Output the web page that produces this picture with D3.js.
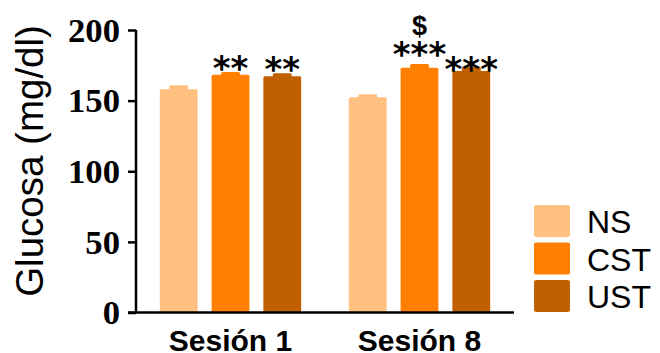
<!DOCTYPE html>
<html>
<head>
<meta charset="utf-8">
<script src="https://cdn.jsdelivr.net/npm/d3@7"></script>
<style>
  body { margin: 0; background: #fff; }
  svg { display: block; }
</style>
</head>
<body>
<svg id="drawing_region"></svg>
<script>
// data
const sessions = ["Sesión 1", "Sesión 8"];
const groups = ["NS", "CST", "UST"];
const means = {
    "NS":  [158.0, 152.4],
    "CST": [168.4, 173.3],
    "UST": [167.2, 171.0]
};
const sems = {
    "NS":  [2.8, 2.1],
    "CST": [1.9, 2.6],
    "UST": [2.2, 3.0]
};
const colors = ["#FFC080", "#FF8000", "#C06000"];
const yTicks = [0, 50, 100, 150, 200];
// significance marks: [session index, group, label, gap above error bar]
const marks = [
    [0, "CST", "**", 4],
    [0, "UST", "**", 4],
    [1, "CST", "***", 10],
    [1, "UST", "***", -2],
    [1, "CST", "$", 29]
];

const config = {
    width: 660,
    height: 353,
    left: 136,
    right: 514,
    top: 30,
    bottom: 312.5
};

const svg = d3.select('#drawing_region')
    .attr('width', config.width)
    .attr('height', config.height);

const y = d3.scaleLinear()
    .domain([0, 200])
    .range([config.bottom, config.top]);

const x0 = d3.scaleBand()
    .domain(sessions)
    .range([config.left, config.right])
    .padding(0);

const x1 = d3.scaleBand()
    .domain(groups)
    .range([0, x0.bandwidth()])
    .paddingInner(0.27)
    .paddingOuter(0.46);

const color = d3.scaleOrdinal().domain(groups).range(colors);

// bars
const rows = [];
sessions.forEach((s, i) => {
    groups.forEach(g => {
        rows.push({session: s, group: g, mean: means[g][i], sem: sems[g][i]});
    });
});

const bars = svg.append('g').selectAll('.bar')
    .data(rows)
    .enter()
    .append('g')
    .attr('class', 'bar');

bars.append('rect')
    .attr('x', d => x0(d.session) + x1(d.group))
    .attr('y', d => y(d.mean))
    .attr('width', x1.bandwidth())
    .attr('height', d => y(0) - y(d.mean))
    .attr('rx', 1.5)
    .attr('fill', d => color(d.group));

// error bar (upper half only, drawn as a narrow block)
bars.append('rect')
    .attr('x', d => x0(d.session) + x1(d.group) + x1.bandwidth() / 4)
    .attr('y', d => y(d.mean + d.sem))
    .attr('width', x1.bandwidth() / 2)
    .attr('height', d => y(d.mean) - y(d.mean + d.sem) + 1)
    .attr('rx', 1.5)
    .attr('fill', d => color(d.group));

// axes
const yAxis = d3.axisLeft(y)
    .tickValues(yTicks)
    .tickSize(8)
    .tickPadding(7)
    .tickFormat(d3.format('d'));

const gy = svg.append('g')
    .attr('transform', `translate(${config.left},0)`)
    .call(yAxis);
gy.select('.domain')
    .attr('d', `M0,${config.top}V${config.bottom}`)
    .attr('stroke', '#000')
    .attr('stroke-width', 2.5);
gy.selectAll('.tick line').attr('stroke', '#000').attr('stroke-width', 2.5);
gy.selectAll('.tick text')
    .attr('fill', '#000')
    .style('font-family', '"Liberation Serif", "Times New Roman", serif')
    .style('font-weight', 'bold')
    .style('font-size', '33px')
    .attr('dy', '0.34em')
    .attr('transform', 'scale(1.05,1)')
    .attr('x', -16 / 1.05);

const xAxis = d3.axisBottom(x0).tickSize(0).tickPadding(17);
const gx = svg.append('g')
    .attr('transform', `translate(0,${config.bottom})`)
    .call(xAxis);
gx.select('.domain')
    .attr('d', `M${config.left - 8},0H${config.right}`)
    .attr('stroke', '#000')
    .attr('stroke-width', 2.5);
gx.selectAll('.tick text')
    .attr('fill', '#000')
    .style('font-family', '"Liberation Sans", Arial, sans-serif')
    .style('font-weight', 'bold')
    .style('font-size', '30px');

// y title
svg.append('text')
    .attr('transform', `translate(43,161) rotate(-90)`)
    .attr('text-anchor', 'middle')
    .style('font-family', '"Liberation Sans", Arial, sans-serif')
    .style('font-size', '38.5px')
    .text('Glucosa (mg/dl)');

// significance marks
svg.append('g').selectAll('text')
    .data(marks)
    .enter()
    .append('text')
    .attr('x', d => x0(sessions[d[0]]) + x1(d[1]) + x1.bandwidth() / 2)
    .attr('y', d => {
        const top = y(means[d[1]][d[0]] + sems[d[1]][d[0]]) - d[3];
        return d[2] === '$' ? top : top + 12;
    })
    .attr('text-anchor', 'middle')
    .style('font-family', d => d[2] === '$'
        ? '"Liberation Sans", Arial, sans-serif'
        : '"DejaVu Sans", sans-serif')
    .style('font-weight', 'bold')
    .style('font-size', d => d[2] === '$' ? '27px' : '34px')
    .text(d => d[2]);

// legend
const legend = svg.append('g').selectAll('.legend')
    .data(groups)
    .enter()
    .append('g')
    .attr('class', 'legend')
    .attr('transform', (d, i) => `translate(534,${205 + i * 37.5})`);

legend.append('rect')
    .attr('width', 36)
    .attr('height', 32)
    .attr('rx', 2)
    .attr('fill', d => color(d));

legend.append('text')
    .attr('x', 53)
    .attr('y', 28)
    .style('font-family', '"Liberation Sans", Arial, sans-serif')
    .style('font-size', '32px')
    .text(d => d);
</script>
</body>
</html>
